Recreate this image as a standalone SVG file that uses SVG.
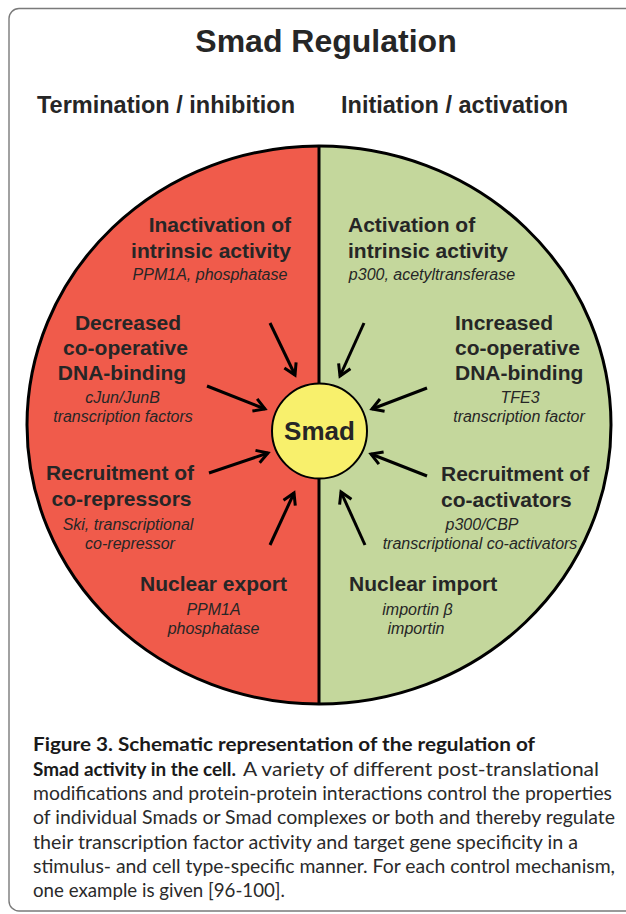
<svg xmlns="http://www.w3.org/2000/svg" width="626" height="914" viewBox="0 0 626 914">
<style>
.t{font-family:"Liberation Sans",Arial,sans-serif;fill:#262626}
.h{font-weight:bold;font-size:21px}
.i{font-style:italic;font-size:16px}
.cap{font-family:Lato,"Liberation Sans",sans-serif;font-size:19px;fill:#2a2a2a}
.cb{font-weight:bold;fill:#1a1a1a}
.arr{stroke:#000;stroke-width:3;fill:none;marker-end:url(#ah)}
</style>
<defs>
<marker id="ah" viewBox="0 0 16 16" markerWidth="16" markerHeight="16" refX="13" refY="8" orient="auto" markerUnits="userSpaceOnUse">
<path d="M2,1.5 L13,8 L2,14.5" fill="none" stroke="#000" stroke-width="3"/>
</marker>
</defs>
<rect width="626" height="914" fill="#fff"/>
<path d="M626,8.5 H19 A10,10 0 0 0 9,18.5 V901 A10,10 0 0 0 19,911 H626" fill="none" stroke="#7a7a7a" stroke-width="1.4"/>
<g id="title">
<text class="t" x="326" y="52" text-anchor="middle" font-weight="bold" font-size="32" fill="#1e1e1e">Smad Regulation</text>
<text class="t" x="166" y="113" text-anchor="middle" font-weight="bold" font-size="23.5">Termination / inhibition</text>
<text class="t" x="341" y="113" font-weight="bold" font-size="23.5">Initiation / activation</text>
</g>
<g id="cell">
<path d="M319,146 A292,279 0 0 0 319,704 Z" fill="#f05b4b"/>
<path d="M319,146 A292,279 0 0 1 319,704 Z" fill="#c4d79c"/>
<line x1="319" y1="146" x2="319" y2="704" stroke="#000" stroke-width="3"/>
<ellipse cx="319" cy="425" rx="292" ry="279" fill="none" stroke="#000" stroke-width="3"/>
</g>
<g id="smad">
<circle cx="319.5" cy="431" r="47.5" fill="#f8f06c" stroke="#000" stroke-width="2"/>
<text class="t" x="319.5" y="440" text-anchor="middle" font-weight="bold" font-size="26">Smad</text>
</g>
<g id="connectors">
<line class="arr" x1="270" y1="323" x2="295" y2="375"/>
<line class="arr" x1="207" y1="386" x2="265" y2="409"/>
<line class="arr" x1="209" y1="473" x2="268" y2="453"/>
<line class="arr" x1="270" y1="545" x2="294" y2="493"/>
<line class="arr" x1="364" y1="323" x2="340" y2="376"/>
<line class="arr" x1="427" y1="388" x2="372" y2="409"/>
<line class="arr" x1="427" y1="476" x2="371" y2="454"/>
<line class="arr" x1="365" y1="545" x2="341" y2="492"/>
</g>
<g id="inactivation">
<text class="t h" x="291" y="232" text-anchor="end">Inactivation of</text>
<text class="t h" x="291" y="258" text-anchor="end">intrinsic activity</text>
<text class="t i" x="210" y="280" text-anchor="middle">PPM1A, phosphatase</text>
</g>
<g id="decreased">
<text class="t h" x="128" y="330" text-anchor="middle">Decreased</text>
<text class="t h" x="125.5" y="355" text-anchor="middle">co-operative</text>
<text class="t h" x="122" y="380" text-anchor="middle">DNA-binding</text>
<text class="t i" x="122.5" y="403" text-anchor="middle">cJun/JunB</text>
<text class="t i" x="123" y="422" text-anchor="middle">transcription factors</text>
</g>
<g id="corepressors">
<text class="t h" x="120" y="480" text-anchor="middle">Recruitment of</text>
<text class="t h" x="121.5" y="506" text-anchor="middle">co-repressors</text>
<text class="t i" x="128" y="530" text-anchor="middle">Ski, transcriptional</text>
<text class="t i" x="130" y="549" text-anchor="middle">co-repressor</text>
</g>
<g id="export">
<text class="t h" x="213.5" y="591" text-anchor="middle">Nuclear export</text>
<text class="t i" x="213.5" y="615" text-anchor="middle">PPM1A</text>
<text class="t i" x="213.5" y="634" text-anchor="middle">phosphatase</text>
</g>
<g id="activation">
<text class="t h" x="348" y="232">Activation of</text>
<text class="t h" x="348" y="258">intrinsic activity</text>
<text class="t i" x="432" y="280" text-anchor="middle">p300, acetyltransferase</text>
</g>
<g id="increased">
<text class="t h" x="455" y="330">Increased</text>
<text class="t h" x="455" y="355">co-operative</text>
<text class="t h" x="455" y="380">DNA-binding</text>
<text class="t i" x="520" y="403" text-anchor="middle">TFE3</text>
<text class="t i" x="519" y="422" text-anchor="middle">transcription factor</text>
</g>
<g id="coactivators">
<text class="t h" x="441" y="481">Recruitment of</text>
<text class="t h" x="441" y="507">co-activators</text>
<text class="t i" x="482" y="530" text-anchor="middle">p300/CBP</text>
<text class="t i" x="480" y="549" text-anchor="middle">transcriptional co-activators</text>
</g>
<g id="import">
<text class="t h" x="349" y="591">Nuclear import</text>
<text class="t i" x="417.5" y="615" text-anchor="middle">importin β</text>
<text class="t i" x="416" y="634" text-anchor="middle">importin</text>
</g>
<g id="caption">
<text class="cap cb" x="33" y="751" textLength="502" lengthAdjust="spacingAndGlyphs">Figure 3. Schematic representation of the regulation of</text>
<text class="cap cb" x="33" y="775.5" textLength="203" lengthAdjust="spacingAndGlyphs">Smad activity in the cell.</text>
<text class="cap" x="243" y="775.5" textLength="356" lengthAdjust="spacingAndGlyphs">A variety of different post-translational</text>
<text class="cap" x="33" y="800" textLength="579" lengthAdjust="spacingAndGlyphs">modifications and protein-protein interactions control the properties</text>
<text class="cap" x="33" y="824" textLength="582" lengthAdjust="spacingAndGlyphs">of individual Smads or Smad complexes or both and thereby regulate</text>
<text class="cap" x="33" y="848.5" textLength="545" lengthAdjust="spacingAndGlyphs">their transcription factor activity and target gene specificity in a</text>
<text class="cap" x="33" y="873" textLength="582" lengthAdjust="spacingAndGlyphs">stimulus- and cell type-specific manner. For each control mechanism,</text>
<text class="cap" x="33" y="897" textLength="252" lengthAdjust="spacingAndGlyphs">one example is given [96-100].</text>
</g>
</svg>
